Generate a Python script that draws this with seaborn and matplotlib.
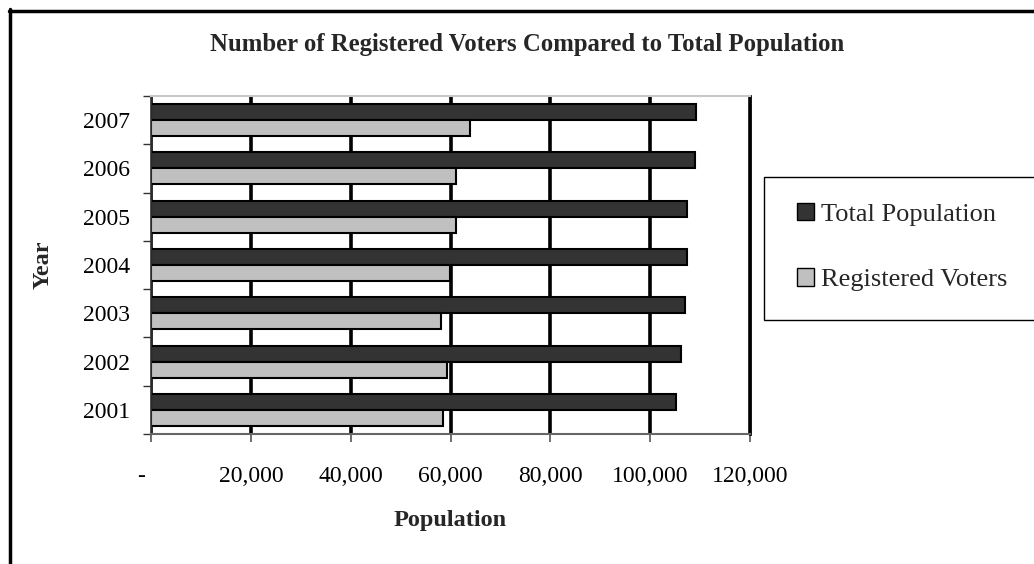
import matplotlib
matplotlib.use("Agg")
import matplotlib.pyplot as plt
import matplotlib.transforms as mtransforms
from matplotlib.patches import Patch, Rectangle
from matplotlib.lines import Line2D
from matplotlib.ticker import FixedLocator
import seaborn as sns
import pandas as pd

# ---- data ----
years = ["2001", "2002", "2003", "2004", "2005", "2006", "2007"]
total_population = [105200, 106100, 106900, 107300, 107300, 108900, 109200]
registered_voters = [58400, 59200, 58100, 59900, 61200, 61200, 64000]
series_names = ["Total Population", "Registered Voters"]
x_ticks = [0, 20000, 40000, 60000, 80000, 100000, 120000]
x_tick_labels = ["-", "20,000", "40,000", "60,000", "80,000", "100,000", "120,000"]
colors = {"Total Population": "#333333", "Registered Voters": "#C0C0C0"}

df = pd.DataFrame({
    "Year": years * 2,
    "Value": total_population + registered_voters,
    "Series": [series_names[0]] * len(years) + [series_names[1]] * len(years),
})

sns.set_theme(style="white")
plt.rcParams["font.family"] = ["Liberation Serif", "DejaVu Serif"]

fig = plt.figure(figsize=(10.34, 5.64), dpi=100)
ax = fig.add_axes([151 / 1034, 1 - 434 / 564, 599 / 1034, 338 / 564])

sns.barplot(data=df, y="Year", x="Value", hue="Series", orient="h",
            order=years[::-1], hue_order=series_names, palette=colors,
            width=0.66, gap=0, edgecolor="black", linewidth=1.5,
            saturation=1, legend=False, ax=ax)

ax.set_xlim(0, 120000)
ax.set_ylim(6.5, -0.5)
ax.set_xticks(x_ticks)
ax.set_xticklabels(x_tick_labels)
ax.xaxis.grid(True, color="black", linewidth=2.6)
ax.yaxis.grid(False)
ax.set_axisbelow(True)

# y tick marks at category boundaries
ax.yaxis.set_minor_locator(FixedLocator([i - 0.5 for i in range(len(years) + 1)]))
ax.tick_params(axis="y", which="major", length=0, pad=15, labelsize=17, colors="black")
ax.tick_params(axis="y", which="minor", length=6, width=1, color="#333333", left=True)
ax.tick_params(axis="x", which="major", length=6, width=1.2, color="#555555",
               pad=17, labelsize=17, labelcolor="black", bottom=True)

# shift the "-" zero label a bit left as in the reference
lbl0 = ax.get_xticklabels()[0]
lbl0.set_transform(lbl0.get_transform() +
                   mtransforms.ScaledTranslation(-10 / 100, 0, fig.dpi_scale_trans))

for side, col, lw in [("left", "#333333", 1.2), ("bottom", "#666666", 1.5),
                      ("top", "#C8C8C8", 1.5), ("right", "black", 2.0)]:
    ax.spines[side].set_visible(True)
    ax.spines[side].set_color(col)
    ax.spines[side].set_linewidth(lw)

ax.set_xlabel("Population", fontsize=17.5, fontweight="bold")
ax.set_ylabel("Year", fontsize=17.5, fontweight="bold")
ax.xaxis.set_label_coords(0.5, (434 - 510) / 338)
ax.yaxis.set_label_coords((54 - 151) / 599, 0.5)

fig.text(527 / 1034, 1 - 45 / 564,
         "Number of Registered Voters Compared to Total Population",
         ha="center", va="center", fontsize=17.8, fontweight="bold")

# legend box (extends past the right edge as in the reference)
fig.patches.append(Rectangle((764 / 1034, 1 - 320 / 564), 0.4, 143 / 564,
                             transform=fig.transFigure, facecolor="white",
                             edgecolor="black", linewidth=1.0, clip_on=False))
handles = [Patch(facecolor=colors[s], edgecolor="black", linewidth=1.0) for s in series_names]
fig.legend(handles, series_names, loc="center left",
           bbox_to_anchor=(786 / 1034, 1 - 247 / 564), frameon=False,
           fontsize=19, handlelength=0.65, handleheight=0.65, handletextpad=0.27,
           labelspacing=1.62, borderaxespad=0)

# outer chart border (top and left visible)
fig.add_artist(Line2D([9 / 1034, 1.0], [1 - 10.5 / 564, 1 - 10.5 / 564],
                      transform=fig.transFigure, color="black", linewidth=2.5))
fig.add_artist(Line2D([9.5 / 1034, 9.5 / 1034], [0, 1 - 9 / 564],
                      transform=fig.transFigure, color="black", linewidth=2.5))

fig.savefig("out.png", dpi=100)
